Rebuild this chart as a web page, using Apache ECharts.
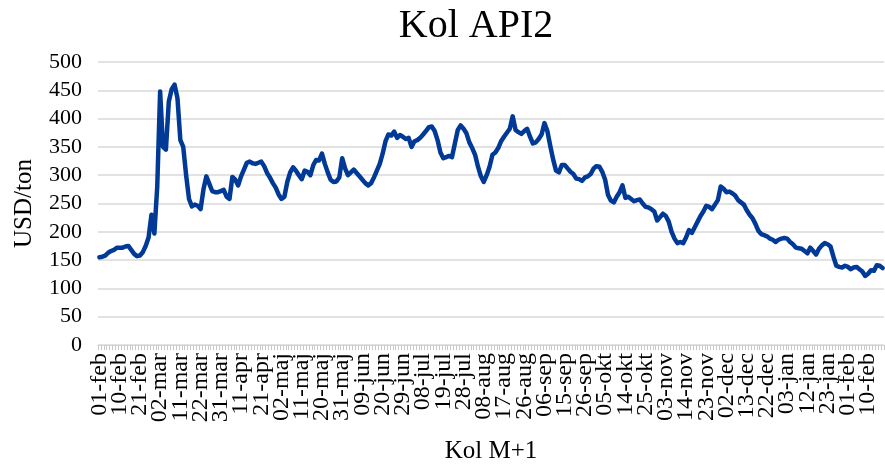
<!DOCTYPE html>
<html>
<head>
<meta charset="utf-8">
<script src="https://cdn.jsdelivr.net/npm/echarts@6/dist/echarts.min.js"></script>
<style>
  html, body { margin: 0; padding: 0; background: #fff; }
  #chart { width: 885px; height: 469px; }
</style>
</head>
<body>
<div id="chart"></div>
<script>
// etiketter på x-aksen, én for hver 7. handelsdag
const tickLabels = ['01-feb', '10-feb', '21-feb', '02-mar', '11-mar', '22-mar', '31-mar', '11-apr', '21-apr',
  '02-maj', '11-maj', '20-maj', '31-maj', '09-jun', '20-jun', '29-jun', '08-jul', '19-jul', '28-jul',
  '08-aug', '17-aug', '26-aug', '06-sep', '15-sep', '26-sep', '05-okt', '14-okt', '25-okt', '03-nov',
  '14-nov', '23-nov', '02-dec', '13-dec', '22-dec', '03-jan', '12-jan', '23-jan', '01-feb', '10-feb'];
const labelStep = 7;

// Kol M+1, USD/ton
const prices = [
  155, 156, 158, 163, 166, 168, 172,
  172, 172, 174, 175, 168, 161, 157,
  158, 164, 175, 190, 230, 197, 280,
  448, 350, 345, 430, 452, 460, 436,
  362, 350, 300, 258, 245, 248, 246,
  240, 275, 298, 285, 272, 270, 270,
  272, 274, 262, 258, 297, 292, 282,
  298, 310, 322, 324, 321, 320, 322,
  324, 316, 304, 296, 286, 278, 266,
  258, 262, 288, 305, 314, 308, 300,
  293, 308, 306, 300, 318, 327, 326,
  338, 320, 305, 292, 288, 289, 296,
  330, 312, 300, 305, 310, 304, 298,
  292, 286, 282, 286, 296, 308, 320,
  338, 360, 372, 370, 377, 366, 371,
  368, 364, 366, 350, 360, 362, 366,
  372, 378, 385, 386, 378, 362, 340,
  330, 332, 334, 332, 356, 380, 388,
  382, 374, 358, 348, 336, 315, 298,
  288, 300, 315, 336, 340, 348, 360,
  368, 375, 382, 404, 380, 376, 373,
  378, 382, 368, 356, 358, 364, 372,
  392, 378, 352, 328, 308, 305, 318,
  318, 312, 306, 302, 294, 293, 290,
  296, 298, 302, 312, 316, 315, 306,
  292, 265, 255, 252, 262, 270, 282,
  260, 262, 258, 254, 256, 257, 250,
  244, 243, 240, 236, 220, 226, 232,
  228, 218, 200, 188, 180, 182, 180,
  190, 203, 198, 208, 218, 228, 236,
  246, 244, 240, 248, 256, 280, 276,
  270, 271, 268, 264, 256, 252, 248,
  238, 230, 224, 214, 202, 196, 194,
  192, 188, 186, 182, 186, 188, 189,
  188, 182, 178, 172, 171, 170, 166,
  162, 172, 166, 160, 170, 176, 180,
  178, 174, 156, 140, 138, 137, 140,
  138, 134, 137, 138, 134, 130, 122,
  126, 132, 131, 141, 140, 136
];

const yMin = 0, yMax = 500, yStep = 50;

// kategorier: kun hver 7. dag har tekst, resten er tomme
const days = prices.map((_, i) => (i % labelStep === 0 && tickLabels[i / labelStep]) ? tickLabels[i / labelStep] : '');

const serif = '"Liberation Serif", "Times New Roman", serif';
const chart = echarts.init(document.getElementById('chart'));
chart.setOption({
  backgroundColor: '#fff',
  animation: false,
  title: {
    text: 'Kol API2', left: 471, top: 1, textAlign: 'center',
    textStyle: { fontFamily: serif, fontSize: 40, fontWeight: 'normal', color: '#000' }
  },
  grid: { left: 98, right: 1, top: 62, bottom: 124 },
  xAxis: {
    type: 'category', data: days, boundaryGap: true,
    name: 'Kol M+1', nameLocation: 'middle', nameGap: 94,
    nameTextStyle: { fontFamily: serif, fontSize: 25, color: '#000' },
    axisLine: { lineStyle: { color: '#d9d9d9', width: 1 } },
    axisTick: { show: true, interval: 0, length: 5, lineStyle: { color: '#c8c8c8' } },
    axisLabel: {
      // interval 0 => alle (også tomme) etiketter tegnes, ingen min/max-skjul
      interval: 0, rotate: 90, margin: 8, hideOverlap: false,
      fontFamily: serif, fontSize: 24, color: '#000'
    },
    splitLine: { show: false }
  },
  yAxis: {
    type: 'value', min: yMin, max: yMax, interval: yStep,
    name: 'USD/ton', nameLocation: 'middle', nameGap: 61, nameRotate: 90,
    nameTextStyle: { fontFamily: serif, fontSize: 25, color: '#000' },
    axisLine: { show: false }, axisTick: { show: false },
    axisLabel: { fontFamily: serif, fontSize: 22, color: '#000', margin: 16 },
    splitLine: { lineStyle: { color: '#d9d9d9', width: 1.5 } }
  },
  series: [{
    type: 'line', data: prices, symbol: 'none', smooth: false,
    lineStyle: { color: '#003a96', width: 4.5, join: 'round', cap: 'round' }
  }]
});
</script>
</body>
</html>
